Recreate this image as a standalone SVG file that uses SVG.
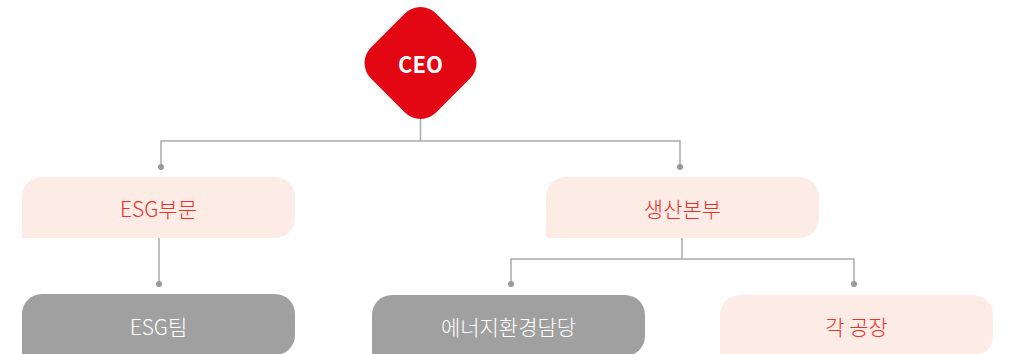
<svg xmlns="http://www.w3.org/2000/svg" width="1029" height="354" viewBox="0 0 1029 354">
<style>
.ln{fill:none;stroke:#aaaaaa;stroke-width:1.5}
.dot{fill:#999999}
.pink{fill:#fdebe6}
.gray{fill:#a0a0a0}
.t{font-family:"Noto Sans CJK KR","Noto Sans",sans-serif;font-size:21px;font-weight:300;text-anchor:middle;dominant-baseline:central}
.tr{fill:#e8312a}
.tw{fill:#ffffff}
.tb{font-weight:bold;font-size:22px}
</style>
<rect width="1029" height="354" fill="#ffffff"/>
<g id="connectors">
<path class="ln" d="M420.5 119V141M161 167V141H680V167"/>
<path class="ln" d="M159 238V284"/>
<path class="ln" d="M682 238V259M511 284V259H854V284"/>
<circle class="dot" cx="161" cy="167" r="3"/>
<circle class="dot" cx="680" cy="167" r="3"/>
<circle class="dot" cx="159" cy="284" r="3"/>
<circle class="dot" cx="511" cy="284" r="3"/>
<circle class="dot" cx="854" cy="284" r="3"/>
</g>
<g id="ceo">
<rect x="-46" y="-46" width="92" height="92" rx="22" fill="#e30613" transform="translate(420.5 63) rotate(45)"/>
<text class="t tw tb" x="420.5" y="63">CEO</text>
</g>
<g id="esg-div">
<path class="pink" d="M42 177H275A20 20 0 0 1 295 197V218A20 20 0 0 1 275 238H22V197A20 20 0 0 1 42 177Z"/>
<text class="t tr" x="158.5" y="208">ESG부문</text>
</g>
<g id="prod-div">
<path class="pink" d="M566 177H799A20 20 0 0 1 819 197V218A20 20 0 0 1 799 238H546V197A20 20 0 0 1 566 177Z"/>
<text class="t tr" x="682.5" y="208">생산본부</text>
</g>
<g id="esg-team">
<path class="gray" d="M42 294H275A20 20 0 0 1 295 314V335A20 20 0 0 1 275 355H22V314A20 20 0 0 1 42 294Z"/>
<text class="t tw" x="158.5" y="326">ESG팀</text>
</g>
<g id="energy">
<path class="gray" d="M392 295H625A20 20 0 0 1 645 315V336A20 20 0 0 1 625 356H372V315A20 20 0 0 1 392 295Z"/>
<text class="t tw" x="508.5" y="326">에너지환경담당</text>
</g>
<g id="factory">
<path class="pink" d="M740 295H973A20 20 0 0 1 993 315V336A20 20 0 0 1 973 356H720V315A20 20 0 0 1 740 295Z"/>
<text class="t tr" x="856.5" y="326">각 공장</text>
</g>
</svg>
